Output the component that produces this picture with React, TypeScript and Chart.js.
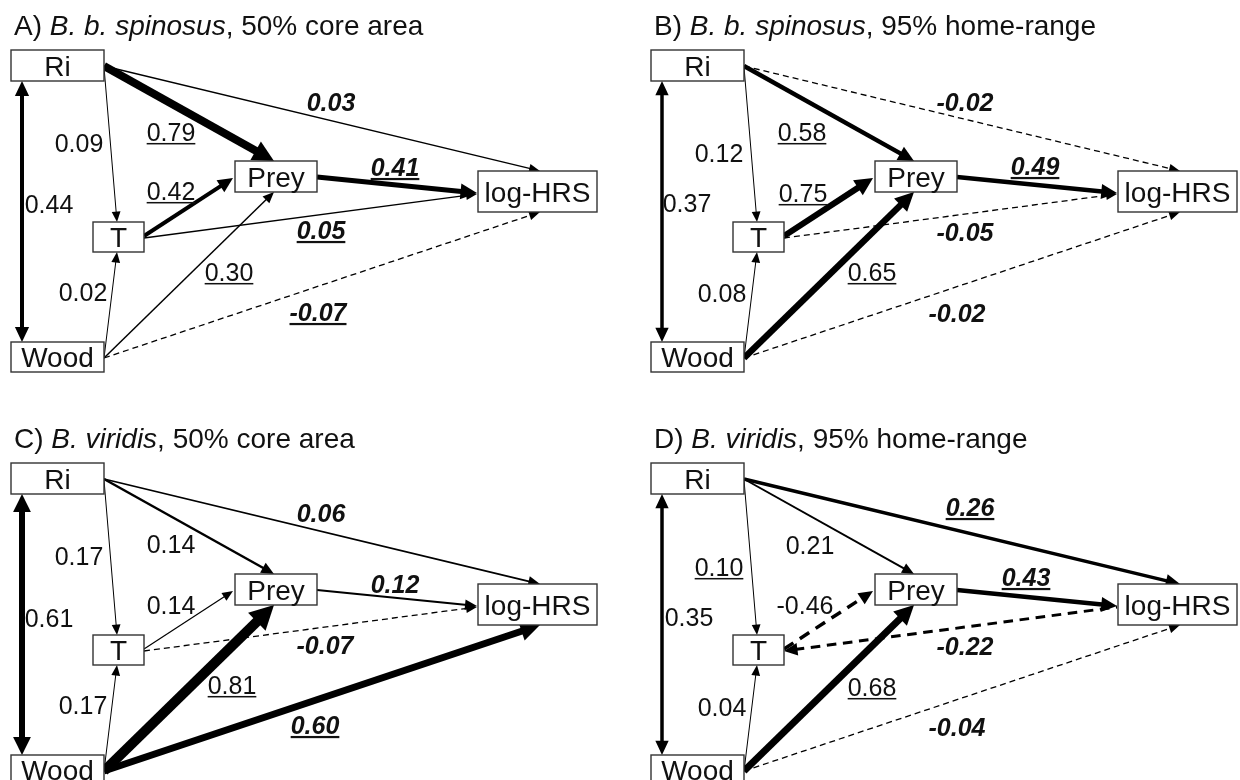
import { useEffect, useRef } from "react";
import { Chart, registerables } from "chart.js";

Chart.register(...registerables);

// ---------- content ----------
const PANEL_LETTERS = ["A) ", "B) ", "C) ", "D) "];
const PANEL_SPECIES = ["B. b. spinosus", "B. b. spinosus", "B. viridis", "B. viridis"];
const PANEL_MEASURES = [", 50% core area", ", 95% home-range", ", 50% core area", ", 95% home-range"];

const NODE_NAMES = ["Ri", "T", "Prey", "log-HRS", "Wood"];

// paths (names from NODE_NAMES)
const PATH_FROM = ["Ri", "Ri", "Ri", "T", "T", "Prey", "Wood", "Wood", "Wood"];
const PATH_TO = ["T", "Prey", "log-HRS", "Prey", "log-HRS", "log-HRS", "T", "Prey", "log-HRS"];

// path coefficients per panel
const COEF_A = [0.09, 0.79, 0.03, 0.42, 0.05, 0.41, 0.02, 0.30, -0.07];
const COEF_B = [0.12, 0.58, -0.02, 0.75, -0.05, 0.49, 0.08, 0.65, -0.02];
const COEF_C = [0.17, 0.14, 0.06, 0.14, -0.07, 0.12, 0.17, 0.81, 0.60];
const COEF_D = [0.10, 0.21, 0.26, -0.46, -0.22, 0.43, 0.04, 0.68, -0.04];
// Ri <-> Wood correlation per panel
const CORR = [0.44, 0.37, 0.61, 0.35];
// significant (underlined) coefficients
const SIG_A = [false, true, false, true, true, true, false, true, true];
const SIG_B = [false, true, false, true, false, true, false, true, false];
const SIG_C = [false, false, false, false, false, false, false, true, true];
const SIG_D = [true, false, true, false, false, true, false, true, false];

// ---------- layout (panel-local units) ----------
const PANEL_ORIGIN_X = [0, 640, 0, 640];
const PANEL_ORIGIN_Y = [0, 0, 413, 413];

const NODE_X = [57.5, 118.5, 276, 537.5, 57.5];
const NODE_Y = [65.5, 237, 176.5, 191.5, 357];
const NODE_W = [93, 51, 82, 119, 93];
const NODE_H = [31, 30, 31, 41, 30];

const PATH_START_X = [104, 104, 104, 144, 144, 317, 104, 104, 104];
const PATH_START_Y = [67, 66, 66, 236, 238, 177, 358, 358, 358];
const PATH_END_X = [117, 274, 540, 233, 477, 477, 117, 274, 540];
const PATH_END_Y = [222, 161, 171, 178, 194, 193, 252, 192, 212];

const CORR_X = 22;
const CORR_Y1 = 81;
const CORR_Y2 = 342;

const LABEL_POS = [
  [[79, 143], [171, 132], [331, 102], [171, 191], [321, 230], [395, 167], [83, 292], [229, 272], [318, 312]],
  [[79, 153], [162, 132], [325, 102], [163, 193], [325, 232], [395, 166], [82, 293], [232, 272], [317, 313]],
  [[79, 143], [171, 131], [321, 100], [171, 192], [325, 232], [395, 171], [83, 292], [232, 272], [315, 312]],
  [[79, 154], [170, 132], [330, 94], [165, 192], [325, 233], [386, 164], [82, 294], [232, 274], [317, 314]],
];
const CORR_LABEL_POS = [[49, 204], [47, 203], [49, 205], [49, 204]];
const TITLE_X = 14;
const TITLE_BASE_Y = 35;

// ---------- styles ----------
const WIDTH_A = [1, 8, 1.3, 4, 1.3, 5, 1, 1.5, 1.3];
const WIDTH_B = [1, 4.5, 1.3, 6, 1.3, 4.5, 1, 6.5, 1.3];
const WIDTH_C = [1, 2.5, 1.8, 1.2, 1.3, 2, 1, 10, 7];
const WIDTH_D = [1, 2, 3.5, 3.5, 3, 4.5, 1, 7, 1.3];
const CORR_WIDTH = [4, 3.5, 6, 3.5];
// arrowhead drawn at start instead of end
const HEAD_AT_START_D = [false, false, false, false, true, false, false, false, false];

const FONT = '"Liberation Sans", Arial, Helvetica, sans-serif';
const INK = "#111";

const COEFS = [COEF_A, COEF_B, COEF_C, COEF_D];
const SIGS = [SIG_A, SIG_B, SIG_C, SIG_D];
const WIDTHS = [WIDTH_A, WIDTH_B, WIDTH_C, WIDTH_D];

function fmt(v: number) {
  return v.toFixed(2);
}

function head(ctx: CanvasRenderingContext2D, tx: number, ty: number, ux: number, uy: number, hl: number, hw: number) {
  const bx = tx - ux * hl;
  const by = ty - uy * hl;
  ctx.beginPath();
  ctx.moveTo(tx, ty);
  ctx.lineTo(bx - uy * hw, by + ux * hw);
  ctx.lineTo(bx + uy * hw, by - ux * hw);
  ctx.closePath();
  ctx.fill();
}

function arrow(
  ctx: CanvasRenderingContext2D,
  x1: number, y1: number, x2: number, y2: number,
  lw: number, dashed: boolean, headEnd: boolean, headStart: boolean
) {
  const dx = x2 - x1, dy = y2 - y1;
  const L = Math.hypot(dx, dy);
  const ux = dx / L, uy = dy / L;
  const hl = 9 + 1.5 * lw;
  const hw = 3.5 + 0.9 * lw;
  let sx = x1, sy = y1, ex = x2, ey = y2;
  if (headEnd) { ex = x2 - ux * hl * 0.8; ey = y2 - uy * hl * 0.8; }
  if (headStart) { sx = x1 + ux * hl * 0.8; sy = y1 + uy * hl * 0.8; }
  ctx.save();
  ctx.strokeStyle = "#000";
  ctx.fillStyle = "#000";
  ctx.lineWidth = lw;
  ctx.lineCap = "butt";
  ctx.setLineDash(dashed ? [Math.max(6, 3.2 * lw), Math.max(4, 2.2 * lw)] : []);
  ctx.beginPath();
  ctx.moveTo(sx, sy);
  ctx.lineTo(ex, ey);
  ctx.stroke();
  ctx.setLineDash([]);
  if (headEnd) head(ctx, x2, y2, ux, uy, hl, hw);
  if (headStart) head(ctx, x1, y1, -ux, -uy, hl, hw);
  ctx.restore();
}

function label(
  ctx: CanvasRenderingContext2D, text: string, cx: number, cy: number,
  size: number, bold: boolean, italic: boolean, underline: boolean
) {
  ctx.save();
  ctx.font = `${italic ? "italic " : ""}${bold ? "bold " : ""}${size}px ${FONT}`;
  ctx.textAlign = "center";
  ctx.textBaseline = "alphabetic";
  ctx.fillStyle = INK;
  const base = cy + 0.358 * size;
  ctx.fillText(text, cx, base);
  if (underline) {
    const w = ctx.measureText(text).width;
    ctx.fillRect(cx - w / 2, base + 2, w, bold ? 2.2 : 1.5);
  }
  ctx.restore();
}

const diagramPlugin = {
  id: "pathDiagram",
  beforeDraw(chart: any) {
    const ctx = chart.ctx as CanvasRenderingContext2D;
    ctx.save();
    ctx.fillStyle = "#fff";
    ctx.fillRect(0, 0, chart.width, chart.height);
    ctx.restore();
  },
  afterDatasetsDraw(chart: any) {
    const ctx = chart.ctx as CanvasRenderingContext2D;
    const xs = chart.scales.x;
    const ys = chart.scales.y;
    const X = (v: number) => xs.getPixelForValue(v);
    const Y = (v: number) => ys.getPixelForValue(v);

    for (let p = 0; p < 4; p++) {
      const ox = PANEL_ORIGIN_X[p];
      const oy = PANEL_ORIGIN_Y[p];

      // title
      ctx.save();
      ctx.fillStyle = INK;
      ctx.textBaseline = "alphabetic";
      ctx.textAlign = "left";
      let tx = X(ox + TITLE_X);
      const ty = Y(oy + TITLE_BASE_Y);
      const parts: [string, boolean][] = [
        [PANEL_LETTERS[p], false],
        [PANEL_SPECIES[p], true],
        [PANEL_MEASURES[p], false],
      ];
      for (const [t, it] of parts) {
        ctx.font = `${it ? "italic " : ""}28px ${FONT}`;
        ctx.fillText(t, tx, ty);
        tx += ctx.measureText(t).width;
      }
      ctx.restore();

      // correlation double arrow
      arrow(ctx, X(ox + CORR_X), Y(oy + CORR_Y1), X(ox + CORR_X), Y(oy + CORR_Y2), CORR_WIDTH[p], false, true, true);
      label(ctx, fmt(CORR[p]), X(ox + CORR_LABEL_POS[p][0]), Y(oy + CORR_LABEL_POS[p][1]), 25, false, false, false);

      // paths
      const coefs = COEFS[p];
      for (let e = 0; e < PATH_FROM.length; e++) {
        const revHead = p === 3 && HEAD_AT_START_D[e];
        arrow(
          ctx,
          X(ox + PATH_START_X[e]), Y(oy + PATH_START_Y[e]),
          X(ox + PATH_END_X[e]), Y(oy + PATH_END_Y[e]),
          WIDTHS[p][e], coefs[e] < 0, !revHead, revHead
        );
      }

      // nodes
      for (let n = 0; n < NODE_NAMES.length; n++) {
        const x1 = X(ox + NODE_X[n] - NODE_W[n] / 2);
        const x2 = X(ox + NODE_X[n] + NODE_W[n] / 2);
        const y1 = Y(oy + NODE_Y[n] - NODE_H[n] / 2);
        const y2 = Y(oy + NODE_Y[n] + NODE_H[n] / 2);
        ctx.save();
        ctx.fillStyle = "#fff";
        ctx.fillRect(x1, y1, x2 - x1, y2 - y1);
        ctx.strokeStyle = "#333";
        ctx.lineWidth = 1.4;
        ctx.strokeRect(x1, y1, x2 - x1, y2 - y1);
        ctx.restore();
        label(ctx, NODE_NAMES[n], (x1 + x2) / 2, (y1 + y2) / 2, 28, false, false, false);
      }

      // path labels
      for (let e = 0; e < PATH_FROM.length; e++) {
        const toOutcome = PATH_TO[e] === "log-HRS";
        label(
          ctx, fmt(coefs[e]),
          X(ox + LABEL_POS[p][e][0]), Y(oy + LABEL_POS[p][e][1]),
          25, toOutcome, toOutcome, SIGS[p][e]
        );
      }
    }
  },
};

export default function App() {
  const ref = useRef<HTMLCanvasElement>(null);
  useEffect(() => {
    const canvas = ref.current;
    if (!canvas) return;
    const nodePoints: { x: number; y: number }[] = [];
    for (let p = 0; p < 4; p++) {
      for (let n = 0; n < NODE_NAMES.length; n++) {
        nodePoints.push({ x: PANEL_ORIGIN_X[p] + NODE_X[n], y: PANEL_ORIGIN_Y[p] + NODE_Y[n] });
      }
    }
    const chart = new Chart(canvas, {
      type: "scatter",
      data: { datasets: [{ data: nodePoints, pointRadius: 0, pointHoverRadius: 0 }] },
      options: {
        animation: false,
        responsive: false,
        events: [],
        layout: { padding: 0 },
        plugins: {
          legend: { display: false },
          tooltip: { enabled: false },
          title: { display: false },
        },
        scales: {
          x: { type: "linear", min: 0, max: 1240, display: false },
          y: { type: "linear", min: 0, max: 780, reverse: true, display: false },
        },
      },
      plugins: [diagramPlugin],
    });
    return () => chart.destroy();
  }, []);
  return (
    <div style={{ position: "fixed", left: 0, top: 0, width: 1240, height: 780, background: "#fff" }}>
      <canvas ref={ref} width={1240} height={780} style={{ display: "block" }} />
    </div>
  );
}
